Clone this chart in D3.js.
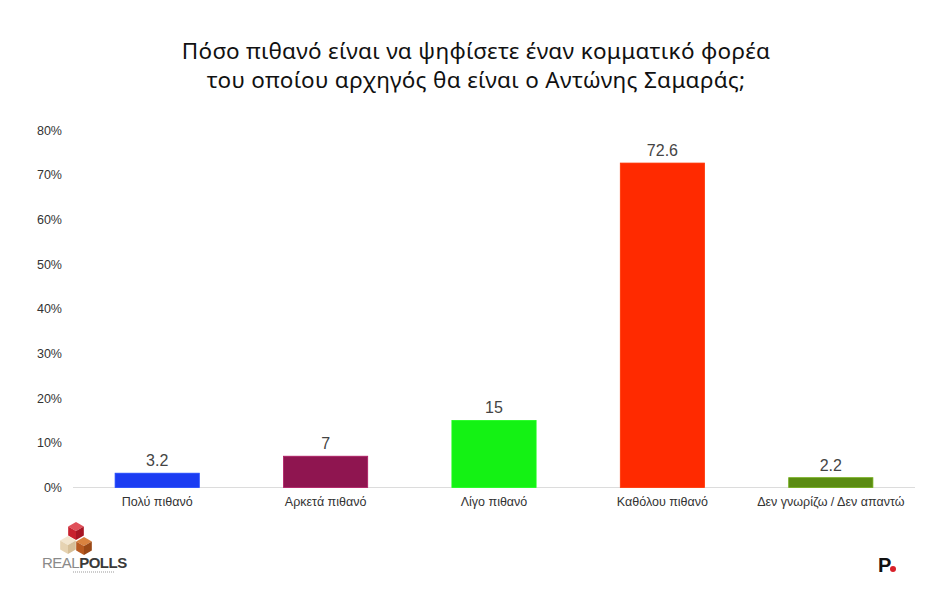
<!DOCTYPE html>
<html><head><meta charset="utf-8">
<script src="https://cdn.jsdelivr.net/npm/d3@7/dist/d3.min.js"></script>
<style>body{margin:0;background:#fff;}svg{display:block;}</style>
</head><body>
<script>
const categories = ["Πολύ πιθανό","Αρκετά πιθανό","Λίγο πιθανό","Καθόλου πιθανό","Δεν γνωρίζω / Δεν απαντώ"];
const values = [3.2, 7, 15, 72.6, 2.2];
const colors = ["#1b3cf2","#8f1550","#14f214","#ff2a00","#5b8c12"];
const yTicks = [0,10,20,30,40,50,60,70,80];
const titleLines = ["Πόσο πιθανό είναι να ψηφίσετε έναν κομματικό φορέα","του οποίου αρχηγός θα είναι ο Αντώνης Σαμαράς;"];

const W=935,H=600;
const svg=d3.select("body").append("svg").attr("width",W).attr("height",H);
const font="'Liberation Sans', Arial, sans-serif";

const x=d3.scaleBand().domain(categories).range([73,915]).paddingInner(0.5).paddingOuter(0.25);
const y=d3.scaleLinear().domain([0,80]).range([487.5,130]);

svg.selectAll("text.title").data(titleLines).enter().append("text")
  .attr("x",476).attr("y",(d,i)=>59+i*29).attr("text-anchor","middle")
  .attr("font-family","'Noto Sans', sans-serif").attr("font-size",22.5).attr("letter-spacing",0.3)
  .attr("fill","#111").text(d=>d);

const yAxis=svg.append("g").attr("transform","translate(62,0)")
  .call(d3.axisLeft(y).tickValues(yTicks).tickSize(0).tickPadding(0).tickFormat(d=>d+"%"));
yAxis.select(".domain").remove();
yAxis.selectAll("text").attr("font-family",font).attr("font-size",12.5).attr("fill","#333");

svg.append("line").attr("x1",73).attr("x2",915).attr("y1",y(0)).attr("y2",y(0))
  .attr("stroke","#dcdcdc").attr("stroke-width",1);

svg.selectAll("rect.bar").data(values).enter().append("rect")
  .attr("x",(d,i)=>x(categories[i])).attr("width",x.bandwidth())
  .attr("y",d=>y(d)).attr("height",d=>y(0)-y(d))
  .attr("fill",(d,i)=>colors[i]).attr("stroke",(d,i)=>d3.color(colors[i]).brighter(0.6)).attr("stroke-width",0.8);

svg.selectAll("text.val").data(values).enter().append("text")
  .attr("x",(d,i)=>x(categories[i])+x.bandwidth()/2).attr("y",d=>y(d)-7)
  .attr("text-anchor","middle").attr("font-family",font).attr("font-size",16).attr("fill","#444")
  .text(d=>d);

const xAxis=svg.append("g").attr("transform",`translate(0,${y(0)})`)
  .call(d3.axisBottom(x).tickSize(0).tickPadding(10));
xAxis.select(".domain").remove();
xAxis.selectAll("text").attr("font-family",font).attr("font-size",12.5).attr("fill","#333");

// REALPOLLS logo
const lg=svg.append("g");
function cube(cx,cy,s,top,left,right){
  lg.append("polygon").attr("points",`${cx},${cy-s} ${cx+s*0.87},${cy-s/2} ${cx},${cy} ${cx-s*0.87},${cy-s/2}`).attr("fill",top);
  lg.append("polygon").attr("points",`${cx-s*0.87},${cy-s/2} ${cx},${cy} ${cx},${cy+s} ${cx-s*0.87},${cy+s/2}`).attr("fill",left);
  lg.append("polygon").attr("points",`${cx+s*0.87},${cy-s/2} ${cx},${cy} ${cx},${cy+s} ${cx+s*0.87},${cy+s/2}`).attr("fill",right);
}
cube(76,531,9,"#e0505a","#c8202e","#a81524");
cube(68,545,9,"#f3e6cf","#e6d3b2","#d6bf98");
cube(84,546,9,"#d9823f","#b85a20","#9a4816");
lg.append("text").attr("x",42).attr("y",568).attr("font-family",font).attr("font-size",15)
  .attr("letter-spacing",-0.5)
  .html('<tspan fill="#8a8a8a" font-weight="normal">REAL</tspan><tspan fill="#3a3a3a" font-weight="bold">POLLS</tspan>');
lg.append("line").attr("x1",73).attr("x2",115).attr("y1",572).attr("y2",572).attr("stroke","#999").attr("stroke-width",1).attr("stroke-dasharray","1,1");

// P. logo
svg.append("text").attr("x",878).attr("y",572).attr("font-family",font).attr("font-weight","bold")
  .attr("font-size",20).attr("fill","#111").text("P");
svg.append("circle").attr("cx",893).attr("cy",569).attr("r",3).attr("fill","#d8202a");
</script>
</body></html>
